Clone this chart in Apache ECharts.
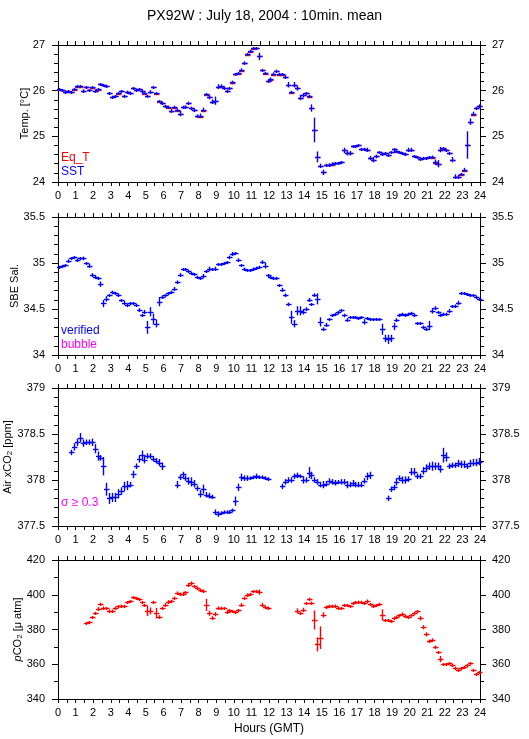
<!DOCTYPE html>
<html><head><meta charset="utf-8">
<script src="https://cdn.jsdelivr.net/npm/echarts@6/dist/echarts.min.js"></script>
<style>html,body{margin:0;padding:0;background:#fff}#c{width:529px;height:739px}</style>
</head><body><div id="c"></div>
<script>
// 10-minute bins over the day (144 bins)
const binCount = 144;
const hourTicks = [0,1,2,3,4,5,6,7,8,9,10,11,12,13,14,15,16,17,18,19,20,21,22,23,24];

const sstValues = [26.03,26.01,25.96,25.99,25.96,26.03,26.10,26.11,26.00,26.07,
 26.01,26.07,26.00,26.03,26.14,26.13,26.10,25.94,25.87,25.88,
 25.94,25.99,25.89,25.97,25.95,26.06,26.01,26.03,26.00,25.94,
 25.88,25.98,26.07,25.94,25.77,25.73,25.67,25.65,25.56,25.65,
 25.58,25.50,25.64,25.65,25.74,25.61,25.57,25.45,25.45,25.58,
 25.92,25.86,25.76,25.78,26.09,26.11,26.06,26.00,26.05,26.18,
 26.36,26.38,26.45,26.61,26.80,26.87,26.93,26.93,26.75,26.45,
 26.38,26.22,26.26,26.36,26.44,26.37,26.36,26.31,26.13,25.97,
 26.13,26.05,25.85,25.90,25.94,25.89,25.62,25.14,24.55,24.36,
 24.21,24.38,24.38,24.40,24.41,24.41,24.44,24.69,24.63,24.63,
 24.79,24.79,24.80,24.73,24.72,24.71,24.53,24.49,24.56,24.65,
 24.61,24.63,24.59,24.65,24.72,24.68,24.66,24.63,24.62,24.71,
 24.71,24.56,24.54,24.51,24.53,24.52,24.55,24.55,24.43,24.40,
 24.71,24.74,24.69,24.63,24.49,24.12,24.12,24.18,24.27,24.81,
 25.32,25.49,25.62,25.66];
const sstSD = [0.02,0.02,0.03,0.02,0.02,0.02,0.02,0.01,0.03,0.02,
 0.02,0.02,0.03,0.03,0.02,0.01,0.03,0.03,0.02,0.02,
 0.02,0.02,0.02,0.03,0.03,0.02,0.02,0.03,0.02,0.02,
 0.02,0.03,0.02,0.03,0.02,0.02,0.02,0.02,0.04,0.02,
 0.03,0.06,0.03,0.03,0.02,0.04,0.04,0.03,0.05,0.05,
 0.03,0.05,0.05,0.09,0.05,0.03,0.03,0.02,0.02,0.04,
 0.03,0.02,0.04,0.03,0.03,0.02,0.02,0.02,0.08,0.03,
 0.02,0.02,0.03,0.04,0.02,0.02,0.02,0.03,0.06,0.03,
 0.06,0.05,0.06,0.05,0.02,0.02,0.08,0.27,0.12,0.04,
 0.06,0.02,0.03,0.03,0.02,0.02,0.02,0.06,0.05,0.05,
 0.02,0.02,0.02,0.02,0.03,0.04,0.04,0.06,0.04,0.02,
 0.03,0.02,0.04,0.02,0.02,0.02,0.02,0.02,0.02,0.04,
 0.04,0.03,0.02,0.02,0.02,0.02,0.02,0.03,0.06,0.08,
 0.06,0.02,0.02,0.01,0.06,0.05,0.04,0.02,0.04,0.30,
 0.07,0.05,0.03,0.04];
const eqTValues = [26.01,26.01,25.96,25.99,25.96,26.01,26.08,26.09,26.00,26.07,
 26.01,26.05,26.00,26.01,26.14,26.13,26.10,25.94,25.87,25.88,
 25.92,25.99,25.89,25.97,25.95,26.06,26.01,26.03,26.00,25.92,
 25.88,25.98,26.07,25.92,25.75,25.73,25.67,25.63,25.56,25.63,
 25.56,25.48,25.64,25.65,25.74,25.61,25.57,25.45,25.43,25.56,
 25.90,25.86,25.76,25.78,26.07,26.09,26.06,26.00,26.05,26.16,
 26.36,26.36,26.43,26.61,26.78,26.85,26.91,26.93,26.75,26.45,
 26.36,26.22,26.24,26.34,26.42,26.35,26.34,26.29,26.13,25.95,
 26.13,26.05,25.85,25.90,25.94,25.87,25.62,25.14,24.55,24.34,
 24.21,24.38,24.38,24.38,24.41,24.41,24.44,24.69,24.63,24.63,
 24.79,24.79,24.80,24.73,24.72,24.71,24.53,24.49,24.56,24.65,
 24.61,24.63,24.59,24.65,24.72,24.66,24.66,24.63,24.62,24.71,
 24.71,24.56,24.54,24.51,24.53,24.52,24.55,24.53,24.41,24.40,
 24.71,24.72,24.69,24.63,24.49,24.12,24.12,24.16,24.25,24.81,
 25.32,25.47,25.62,25.66];

const salValues = [34.96,34.97,34.98,35.02,35.05,35.06,35.03,35.05,35.05,35.00,
 34.97,34.87,34.85,34.84,34.77,34.56,34.61,34.65,34.68,34.67,
 34.65,34.60,34.57,34.54,34.56,34.56,34.54,34.49,34.43,34.47,
 34.30,34.47,34.39,34.34,34.58,34.63,34.65,34.67,34.69,34.72,
 34.79,34.87,34.93,34.93,34.91,34.89,34.88,34.85,34.84,34.86,
 34.91,34.94,34.93,34.94,34.99,34.99,35.00,35.01,35.06,35.10,
 35.11,35.03,34.98,34.94,34.92,34.92,34.94,34.95,34.96,35.01,
 34.97,34.87,34.85,34.84,34.84,34.76,34.71,34.65,34.55,34.41,
 34.34,34.48,34.48,34.47,34.50,34.60,34.55,34.65,34.61,34.36,
 34.28,34.33,34.39,34.43,34.45,34.47,34.49,34.43,34.38,34.41,
 34.41,34.41,34.40,34.41,34.36,34.40,34.39,34.39,34.39,34.39,
 34.28,34.18,34.17,34.18,34.31,34.38,34.44,34.45,34.44,34.45,
 34.46,34.43,34.35,34.35,34.30,34.28,34.32,34.48,34.51,34.47,
 34.44,34.45,34.45,34.48,34.53,34.53,34.57,34.67,34.67,34.66,
 34.65,34.65,34.63,34.61];
const salSD = [0.01,0.01,0.01,0.02,0.01,0.01,0.02,0.01,0.02,0.01,
 0.02,0.02,0.02,0.01,0.03,0.04,0.03,0.01,0.02,0.01,
 0.02,0.01,0.02,0.02,0.01,0.01,0.01,0.02,0.01,0.02,
 0.07,0.05,0.06,0.04,0.05,0.02,0.01,0.01,0.01,0.02,
 0.02,0.02,0.01,0.01,0.01,0.01,0.01,0.01,0.01,0.02,
 0.01,0.02,0.01,0.02,0.01,0.01,0.01,0.01,0.02,0.02,
 0.01,0.02,0.01,0.01,0.01,0.01,0.01,0.01,0.01,0.02,
 0.03,0.01,0.01,0.01,0.01,0.01,0.02,0.02,0.02,0.07,
 0.04,0.05,0.05,0.03,0.02,0.02,0.01,0.02,0.06,0.05,
 0.02,0.02,0.01,0.01,0.01,0.01,0.01,0.02,0.02,0.01,
 0.01,0.01,0.01,0.01,0.03,0.01,0.01,0.01,0.01,0.01,
 0.06,0.04,0.05,0.04,0.04,0.02,0.01,0.01,0.01,0.01,
 0.01,0.02,0.01,0.01,0.02,0.01,0.05,0.03,0.02,0.01,
 0.01,0.01,0.01,0.02,0.01,0.02,0.02,0.01,0.01,0.01,
 0.01,0.01,0.01,0.01];

const airValues = [null,null,null,null,
 378.30,378.36,378.41,378.46,378.40,378.41,378.41,378.41,378.34,378.26,
 378.24,378.15,377.90,377.80,377.81,377.81,377.85,377.88,377.93,377.94,
 377.95,378.06,378.15,378.23,378.27,378.22,378.26,378.26,378.23,378.21,
 378.19,378.15,
 null,null,null,null,
 377.95,378.03,378.06,378.02,377.99,377.98,377.96,377.91,377.85,377.90,
 377.84,377.83,377.82,377.65,377.63,377.64,377.65,377.65,377.65,377.67,
 377.77,377.92,378.03,378.02,378.02,378.02,378.03,378.04,378.03,378.03,
 378.02,378.01,
 null,null,null,null,
 377.93,377.98,378.00,378.00,378.04,378.05,378.04,378.00,378.00,378.08,
 378.05,378.00,377.98,377.95,377.95,377.96,377.99,377.98,377.97,377.98,
 377.98,377.98,377.95,377.95,377.97,377.95,377.95,377.95,377.99,378.04,
 378.05,
 null,null,null,null,null,
 377.80,377.90,377.92,377.98,378.02,378.00,378.00,378.01,378.09,378.09,
 378.04,378.04,378.10,378.13,378.15,378.15,378.15,378.15,378.12,378.27,
 378.25,378.15,378.16,378.16,378.18,378.17,378.17,378.15,378.18,378.19,
 378.19,378.20];
const airSD = [null,null,null,null,
 0.03,0.04,0.04,0.05,0.04,0.03,0.03,0.04,0.05,0.05,
 0.03,0.10,0.07,0.06,0.05,0.05,0.05,0.04,0.05,0.05,
 0.03,0.04,0.03,0.04,0.05,0.04,0.03,0.03,0.03,0.03,
 0.04,0.04,
 null,null,null,null,
 0.04,0.03,0.03,0.03,0.04,0.05,0.04,0.03,0.04,0.05,
 0.03,0.03,0.02,0.03,0.03,0.02,0.02,0.02,0.02,0.02,
 0.05,0.04,0.04,0.03,0.03,0.02,0.02,0.03,0.02,0.02,
 0.02,0.02,
 null,null,null,null,
 0.03,0.03,0.03,0.03,0.03,0.03,0.02,0.04,0.03,0.06,
 0.04,0.03,0.03,0.03,0.04,0.03,0.03,0.03,0.03,0.02,
 0.03,0.03,0.04,0.03,0.03,0.03,0.03,0.03,0.03,0.04,
 0.04,
 null,null,null,null,null,
 0.03,0.03,0.03,0.04,0.03,0.04,0.04,0.03,0.04,0.04,
 0.03,0.03,0.04,0.04,0.04,0.05,0.04,0.04,0.04,0.08,
 0.05,0.03,0.03,0.03,0.04,0.04,0.04,0.03,0.04,0.04,
 0.04,0.04];

const pco2Values = [null,null,null,null,null,null,null,null,null,
 383.8,384.2,387.1,389.4,391.9,394.6,392.3,392.3,390.7,390.7,
 392.6,393.6,393.8,393.6,395.7,396.5,398.8,398.0,397.6,395.7,
 394.2,390.7,390.7,395.7,389.4,387.4,392.3,394.2,396.1,396.5,
 398.4,400.9,400.3,400.3,401.3,405.7,406.7,404.8,403.8,402.9,
 402.3,394.2,389.4,386.9,388.8,392.6,392.6,392.3,390.3,391.3,
 390.7,390.3,391.3,394.2,398.0,400.0,400.3,401.9,401.9,401.5,
 394.2,393.2,392.6,
 null,null,null,null,null,null,null,null,null,
 390.7,389.4,391.3,395.1,397.5,395.1,385.5,371.4,375.3,388.4,
 392.8,393.8,393.8,393.6,392.6,392.3,394.2,394.2,393.6,395.1,
 395.7,396.1,396.1,395.1,396.5,394.6,393.8,394.2,394.6,388.4,
 385.5,385.5,384.9,386.9,387.4,388.4,389.0,388.0,387.4,388.4,
 389.7,390.7,386.5,381.3,377.2,373.4,373.9,370.1,366.8,363.0,
 359.9,359.9,360.5,359.5,358.0,356.6,358.0,358.5,359.5,360.5,
 356.6,354.3,355.6];
const pco2SD = [null,null,null,null,null,null,null,null,null,
 0.5,0.5,0.7,0.8,1.0,0.8,1.0,0.7,0.9,0.8,
 0.5,0.5,0.5,0.7,0.7,0.5,0.5,0.5,0.5,0.7,
 0.5,3.0,2.0,0.8,3.0,0.8,0.8,1.0,0.8,0.5,
 0.6,1.0,1.0,0.5,0.5,1.0,1.0,0.8,0.8,0.5,
 0.8,3.5,1.5,0.8,1.2,0.7,0.5,0.5,0.5,0.5,
 0.5,0.5,0.5,1.0,1.0,0.8,0.8,0.5,0.6,1.5,
 1.2,0.5,0.5,
 null,null,null,null,null,null,null,null,null,
 1.5,0.8,1.2,0.8,0.8,1.0,5.5,4.0,6.5,1.5,
 1.0,0.5,0.5,0.8,0.5,0.5,0.5,0.5,0.5,0.5,
 0.5,0.5,0.5,0.5,0.8,0.5,0.5,0.5,0.8,3.2,
 0.5,0.5,0.5,0.5,0.5,0.5,0.8,0.5,0.5,0.5,
 0.5,0.5,1.2,1.2,1.2,0.8,1.0,0.7,0.8,1.8,
 0.5,0.5,0.5,0.5,0.6,0.6,0.5,0.5,0.5,0.5,
 0.8,0.6,0.6];

// ---------------------------------------------------------------
const FONT = "'Liberation Sans', Arial, Helvetica, sans-serif";
const BLUE = '#0000ff', RED = '#ff0000', MAGENTA = '#ff00ff';
// bin centre time in hours
const binHour = i => (i + 0.5) * 24 / binCount;

function toData(vals, sds) {
  const out = [];
  vals.forEach((v, i) => { if (v != null) out.push([binHour(i), v, sds ? (sds[i] || 0) : 0]); });
  return out;
}

function crossRender(color, withVertical) {
  return function (params, api) {
    const x = api.value(0), v = api.value(1), s = api.value(2);
    const c = api.coord([x, v]);
    const t = api.coord([x, v + s]);
    const b = api.coord([x, v - s]);
    const cx = Math.round(c[0]) + 0.5, cy = Math.round(c[1]) + 0.5;
    const hw = 2.5;
    const kids = [{ type: 'line', shape: { x1: cx - hw, y1: cy, x2: cx + hw + 0.5, y2: cy }, style: { stroke: color, lineWidth: 1.4 } }];
    if (withVertical) {
      kids.push({ type: 'line', shape: { x1: cx, y1: Math.min(t[1], cy - 1.5), x2: cx, y2: Math.max(b[1], cy + 1.5) }, style: { stroke: color, lineWidth: 1.4 } });
    }
    return { type: 'group', children: kids };
  };
}

const panels = [
  { top: 45, height: 137, min: 24, max: 27, interval: 1, split: 5, name: 'Temp. [°C]', gap: 28 },
  { top: 217, height: 138, min: 34, max: 35.5, interval: 0.5, split: 5, name: 'SBE Sal.', gap: 38 },
  { top: 388, height: 138, min: 377.5, max: 379, interval: 0.5, split: 5, name: '{a|Air xCO}{s|2}{a| [ppm]}', gap: 44 },
  { top: 560, height: 139, min: 340, max: 420, interval: 20, split: 2, name: '{i|p}{a|CO}{s|2}{a| [μ atm]}', gap: 34 }
];

const grid = [], xAxis = [], yAxis = [];
const axisLine = { show: true, onZero: false, lineStyle: { color: '#000', width: 1 } };
panels.forEach((p, k) => {
  grid.push({ left: 58, top: p.top, width: 422, height: p.height, containLabel: false, outerBoundsMode: 'none' });
  const xa = {
    gridIndex: k, type: 'value', min: 0, max: 24, interval: 1,
    axisLine, splitLine: { show: false },
    axisTick: { show: true, length: 4, lineStyle: { color: '#000' } },
    minorTick: { show: true, splitNumber: 2, length: 4, lineStyle: { color: '#000' } },
    axisLabel: { show: true, fontSize: 11, color: '#000', fontFamily: FONT, margin: 8, showMinLabel: true, showMaxLabel: true,
      formatter: v => hourTicks.includes(v) ? String(v) : '' }
  };
  if (k === 3) {
    Object.assign(xa, { name: 'Hours (GMT)', nameLocation: 'middle', nameGap: 24, nameMoveOverlap: false,
      nameTextStyle: { fontSize: 12, color: '#000', fontFamily: FONT } });
  }
  xAxis.push(Object.assign({ position: 'bottom' }, xa));
  xAxis.push({ gridIndex: k, type: 'value', min: 0, max: 24, interval: 1, position: 'top',
    axisLine, splitLine: { show: false },
    axisTick: { show: true, length: 4, lineStyle: { color: '#000' } },
    minorTick: { show: true, splitNumber: 2, length: 4, lineStyle: { color: '#000' } },
    axisLabel: { show: false } });
  const ya = {
    gridIndex: k, type: 'value', min: p.min, max: p.max, interval: p.interval,
    axisLine, splitLine: { show: false },
    axisTick: { show: true, length: 6, lineStyle: { color: '#000' } },
    minorTick: { show: true, splitNumber: p.split, length: 4, lineStyle: { color: '#000' } },
    axisLabel: { show: true, fontSize: 11, color: '#000', fontFamily: FONT, margin: 13 }
  };
  yAxis.push(Object.assign({}, ya, {
    position: 'left', name: p.name, nameLocation: 'middle', nameRotate: 90, nameGap: p.gap, nameMoveOverlap: false,
    nameTextStyle: { fontSize: 11, color: '#000', fontFamily: FONT,
      rich: {
        a: { fontSize: 11, fontFamily: FONT, color: '#000' },
        s: { fontSize: 8, fontFamily: FONT, color: '#000', verticalAlign: 'bottom', padding: [5, 0, 0, 0] },
        i: { fontSize: 11, fontFamily: FONT, color: '#000', fontStyle: 'italic' }
      } }
  }));
  yAxis.push(Object.assign({}, ya, { position: 'right', axisLabel: Object.assign({}, ya.axisLabel, { margin: 12 }) }));
});

const series = [
  { type: 'custom', xAxisIndex: 0, yAxisIndex: 0, data: toData(eqTValues, null), renderItem: crossRender(RED, false), z: 2 },
  { type: 'custom', xAxisIndex: 0, yAxisIndex: 0, data: toData(sstValues, sstSD), renderItem: crossRender(BLUE, true), z: 3 },
  { type: 'custom', xAxisIndex: 2, yAxisIndex: 2, data: toData(salValues, salSD), renderItem: crossRender(BLUE, true), z: 3 },
  { type: 'custom', xAxisIndex: 4, yAxisIndex: 4, data: toData(airValues, airSD), renderItem: crossRender(BLUE, true), z: 3 },
  { type: 'custom', xAxisIndex: 6, yAxisIndex: 6, data: toData(pco2Values, pco2SD), renderItem: crossRender(RED, true), z: 3 }
];

const txt = (text, left, top, color) => ({ type: 'text', left, top, style: { text, fill: color, fontSize: 12, fontFamily: FONT } });

const chart = echarts.init(document.getElementById('c'), null, { renderer: 'canvas' });
chart.setOption({
  animation: false,
  backgroundColor: '#fff',
  title: { text: 'PX92W : July 18, 2004 : 10min. mean', left: 'center', top: 4,
    textStyle: { fontSize: 14, fontWeight: 'normal', color: '#000', fontFamily: FONT } },
  grid, xAxis, yAxis, series,
  graphic: [
    txt('Eq_T', 61, 152, RED),
    txt('SST', 61, 166, BLUE),
    txt('verified', 61, 325, BLUE),
    txt('bubble', 61, 339, MAGENTA),
    txt('σ ≥ 0.3', 61, 497, MAGENTA)
  ]
});
</script></body></html>
